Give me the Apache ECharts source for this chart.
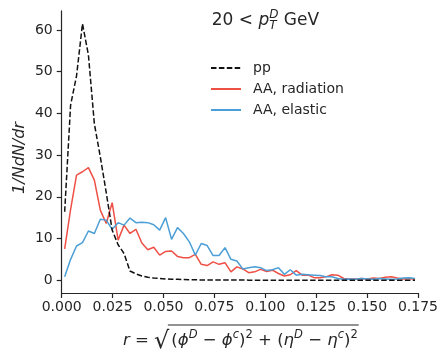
<!DOCTYPE html>
<html>
<head>
<meta charset="utf-8">
<script src="https://cdn.jsdelivr.net/npm/echarts@6/dist/echarts.min.js"></script>
<style>
  html, body { margin: 0; padding: 0; background: #fff; }
  #chart { width: 441px; height: 350px; }
</style>
</head>
<body>
<div id="chart"></div>
<script>
// Radial profile of D mesons around the jet axis: 60 bins on 0 <= r <= 0.175
const rMax = 0.175;
const nBins = 60;
const binCenters = Array.from({ length: nBins }, (_, i) => (i + 0.5) * rMax / nBins);

const xTicks = [0, 0.025, 0.05, 0.075, 0.1, 0.125, 0.15, 0.175];
const yTicks = [0, 10, 20, 30, 40, 50, 60];

const seriesNames = ['pp', 'AA, radiation', 'AA, elastic'];

const ppValues = [
  16.4, 42, 49, 61.5, 54, 37.5, 29.6, 21, 12, 8.5,
  6.4, 2.2, 1.5, 1.0, 0.7, 0.5, 0.4, 0.3, 0.25, 0.2,
  0.15, 0.1, 0.1, 0.05, 0.05, 0.05, 0.03, 0.03, 0.02, 0.02,
  0.02, 0.01, 0.01, 0.01, 0.01, 0.01, 0, 0, 0, 0,
  0, 0, 0, 0, 0, 0, 0, 0, 0, 0,
  0, 0, 0, 0, 0, 0, 0, 0, 0, 0
];

const radiationValues = [
  7.5, 17, 25.2, 26, 27, 24, 16.8, 13.6, 18.6, 9.6,
  13.2, 11.2, 12.2, 8.9, 7.3, 7.9, 6, 6.9, 7, 5.7,
  5.4, 5.4, 6.2, 3.8, 3.5, 4.4, 3.8, 4.2, 2, 3.2,
  2.7, 1.8, 2, 2.6, 2.1, 2.4, 1.6, 1, 1.3, 2.3,
  1.2, 1.2, 0.6, 0.6, 0.8, 1.3, 1.2, 0.4, 0.3, 0.3,
  0.4, 0.3, 0.5, 0.4, 0.7, 0.8, 0.5, 0.3, 0.4, 0.2
];

const elasticValues = [
  0.8, 5, 8.2, 9, 11.8, 11.2, 14.6, 14.4, 12.2, 13.8,
  13.2, 14.9, 13.8, 13.9, 13.8, 13.3, 12, 15, 9.8, 12.6,
  11.2, 9.2, 6, 8.8, 8.3, 5.9, 5.9, 7.8, 5, 4.6,
  2.7, 3, 3.2, 3, 2.3, 2.5, 3, 1.4, 2.5, 1.2,
  1.4, 1.3, 1.2, 1.1, 0.8, 0.8, 0.4, 0.2, 0.3, 0.2,
  0.4, 0.3, 0.2, 0.4, 0.3, 0.2, 0.3, 0.5, 0.6, 0.4
];

const FONT = '"DejaVu Sans", "Liberation Sans", sans-serif';
const INK = '#262626';

const pairs = vals => vals.map((v, i) => [binCenters[i], v]);

// y limits padded by 5% of the data span, like an autoscaled axis
const yDataMax = Math.max(...ppValues, ...radiationValues, ...elasticValues);
const yPad = 0.05 * yDataMax;

// ---- mathtext-like layout helpers (measured with a canvas context) ----
const measureCtx = document.createElement('canvas').getContext('2d');
function fontStr(size, italic) {
  return (italic ? 'italic ' : '') + size + 'px ' + FONT;
}
function runMetrics(text, size, italic) {
  measureCtx.font = fontStr(size, italic);
  measureCtx.textBaseline = 'middle';
  const m = measureCtx.measureText(text);
  const toBase = (typeof m.alphabeticBaseline === 'number') ? -m.alphabeticBaseline : 0.346 * size;
  return { w: m.width, toBase: toBase };
}
// runs: {t, size, it, rise, stackNext} ; stacked runs share one x (sup/sub pairs)
function layoutRuns(runs, x0, baseline) {
  const els = [];
  let x = x0;
  let i = 0;
  while (i < runs.length) {
    const group = [runs[i]];
    while (runs[i].stackNext && i + 1 < runs.length) { i++; group.push(runs[i]); }
    let adv = 0;
    group.forEach(r => {
      const mm = runMetrics(r.t, r.size, r.it);
      adv = Math.max(adv, mm.w);
      els.push({
        type: 'text',
        x: x,
        y: baseline - (r.rise || 0) - mm.toBase,
        silent: true,
        style: {
          text: r.t,
          fontSize: r.size,
          fontStyle: r.it ? 'italic' : 'normal',
          fontFamily: FONT,
          fill: INK,
          align: 'left',
          verticalAlign: 'middle'
        }
      });
    });
    x += adv;
    i++;
  }
  return { els: els, end: x };
}
function runsWidth(runs) {
  let w = 0, i = 0;
  while (i < runs.length) {
    const group = [runs[i]];
    while (runs[i].stackNext && i + 1 < runs.length) { i++; group.push(runs[i]); }
    let adv = 0;
    group.forEach(r => { adv = Math.max(adv, runMetrics(r.t, r.size, r.it).w); });
    w += adv;
    i++;
  }
  return w;
}

const chart = echarts.init(document.getElementById('chart'), null, { renderer: 'canvas' });

const gridLeft = 61.7, gridRight = 22, gridTop = 10.9, gridBottom = 57;

chart.setOption({
  animation: false,
  backgroundColor: '#ffffff',
  grid: { left: gridLeft, right: gridRight, top: gridTop, bottom: gridBottom, containLabel: false },
  legend: {
    orient: 'vertical',
    left: 210,
    top: 61,
    padding: 0,
    itemWidth: 30,
    itemHeight: 14,
    itemGap: 7,
    itemStyle: { opacity: 0 },
    textStyle: { fontSize: 14, fontFamily: FONT, color: INK, padding: [0, 0, 0, 7] },
    data: seriesNames
  },
  xAxis: {
    type: 'value',
    min: 0,
    max: rMax,
    interval: 0.025,
    axisLine: { onZero: false, lineStyle: { color: INK, width: 1.2 } },
    axisTick: { show: true, length: 5, lineStyle: { color: INK, width: 1.2 }, customValues: xTicks },
    axisLabel: {
      customValues: xTicks,
      formatter: v => v.toFixed(3),
      fontSize: 14, fontFamily: FONT, color: INK, margin: 7
    },
    splitLine: { show: false }
  },
  yAxis: {
    type: 'value',
    min: -yPad,
    max: yDataMax + yPad,
    axisLine: { show: true, onZero: false, lineStyle: { color: INK, width: 1.2 } },
    axisTick: { show: true, length: 5, lineStyle: { color: INK, width: 1.2 }, customValues: yTicks },
    axisLabel: { customValues: yTicks, fontSize: 14, fontFamily: FONT, color: INK, margin: 9 },
    splitLine: { show: false }
  },
  series: [
    {
      name: seriesNames[1], type: 'line', data: pairs(radiationValues),
      symbol: 'none', z: 2, color: '#ee5046',
      lineStyle: { width: 1.5, color: '#ee5046' }
    },
    {
      name: seriesNames[2], type: 'line', data: pairs(elasticValues),
      symbol: 'none', z: 2, color: '#4c9fd6',
      lineStyle: { width: 1.5, color: '#4c9fd6' }
    },
    {
      name: seriesNames[0], type: 'line', data: pairs(ppValues),
      symbol: 'none', z: 3, color: '#111111',
      lineStyle: { width: 1.5, color: '#111111', type: [5.5, 2.4] }
    }
  ]
});

// ---- annotation, axis titles ----
const S = 17, s = 12;
const titleRuns = [
  { t: '20 < ', size: S },
  { t: 'p', size: S, it: true },
  { t: 'D', size: s, it: true, rise: 7, stackNext: true },
  { t: 'T', size: s, it: true, rise: -4 },
  { t: ' GeV', size: S }
];
const titleLayout = layoutRuns(titleRuns, 211.7, 25);

const F = 16.5, f = 11.5, sup = 7;
const lhsRuns = [
  { t: 'r', size: F, it: true },
  { t: ' = ', size: F }
];
const radRuns = [
  { t: '(', size: F },
  { t: 'ϕ', size: F, it: true },
  { t: 'D', size: f, it: true, rise: sup },
  { t: ' − ', size: F },
  { t: 'ϕ', size: F, it: true },
  { t: 'c', size: f, it: true, rise: sup },
  { t: ')', size: F },
  { t: '2', size: f, rise: sup },
  { t: ' + ', size: F },
  { t: '(', size: F },
  { t: 'η', size: F, it: true },
  { t: 'D', size: f, it: true, rise: sup },
  { t: ' − ', size: F },
  { t: 'η', size: F, it: true },
  { t: 'c', size: f, it: true, rise: sup },
  { t: ')', size: F },
  { t: '2', size: f, rise: sup }
];
const rootSize = 24;
const rootW = runMetrics('√', rootSize, false).w;
const lhsW = runsWidth(lhsRuns);
const radW = runsWidth(radRuns);
const formulaW = lhsW + rootW + 2 + radW;
const plotCenter = gridLeft + (441 - gridLeft - gridRight) / 2;
const fx0 = plotCenter - formulaW / 2;
const fBase = 345;
const lhsLayout = layoutRuns(lhsRuns, fx0, fBase);
const rootLayout = layoutRuns([{ t: '√', size: rootSize, rise: -3 }], lhsLayout.end, fBase);
const radLayout = layoutRuns(radRuns, rootLayout.end + 2, fBase);
const barY = 325;

const graphics = [].concat(
  titleLayout.els,
  lhsLayout.els,
  rootLayout.els,
  radLayout.els,
  [
    {
      type: 'line', silent: true,
      shape: { x1: rootLayout.end - 1.5, y1: barY, x2: radLayout.end + 1, y2: barY },
      style: { stroke: INK, lineWidth: 1 }
    },
    {
      type: 'text', silent: true,
      x: 20, y: 158, rotation: Math.PI / 2,
      style: {
        text: '1/NdN/dr', fontSize: 16, fontStyle: 'italic', fontFamily: FONT,
        fill: INK, align: 'center', verticalAlign: 'middle'
      }
    }
  ]
);

chart.setOption({ graphic: { elements: graphics } });
</script>
</body>
</html>
